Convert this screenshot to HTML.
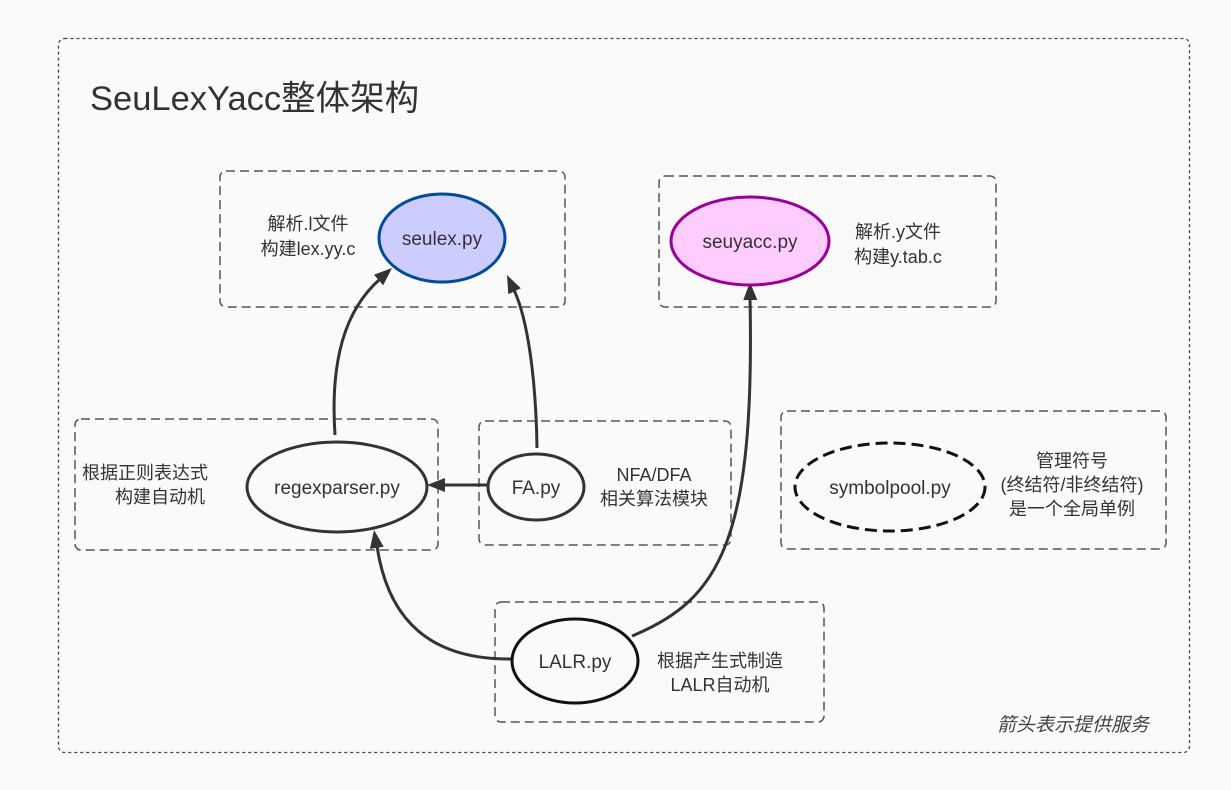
<!DOCTYPE html>
<html><head><meta charset="utf-8"><style>
html,body{margin:0;padding:0;background:#fafafa;}
svg{display:block;font-family:"Liberation Sans","Noto Sans CJK SC",sans-serif;}
</style></head><body>
<svg width="1231" height="790" viewBox="0 0 1231 790" xmlns="http://www.w3.org/2000/svg">
<rect x="0" y="0" width="1231" height="790" fill="#fafafa"/>
<rect x="58.5" y="38.5" width="1131" height="714" rx="6" fill="none" stroke="#444" stroke-width="1.3" stroke-dasharray="3,3"/>
<text x="90" y="110" font-size="34.5" fill="#333">SeuLexYacc整体架构</text>

<g fill="none" stroke="#555" stroke-width="1.5" stroke-dasharray="9,5">
<rect x="220" y="171" width="345" height="136" rx="6"/>
<rect x="659" y="176" width="337" height="131" rx="6"/>
<rect x="75" y="419" width="363" height="131" rx="6"/>
<rect x="479" y="421" width="252" height="124" rx="6"/>
<rect x="781" y="411" width="385" height="138" rx="6"/>
<rect x="495" y="602" width="329" height="120" rx="6"/>
</g>

<g fill="none" stroke="#333" stroke-width="3">
<path d="M335,435 C330,360 345,310 380,279"/>
<path d="M537,448 C536,380 528,320 514,290"/>
<path d="M488,485 L444,485"/>
<path d="M512,659 C430,660 388,620 377,546"/>
<path d="M632,636 C720,600 755,540 750,298"/>
</g>
<g fill="#333">
<polygon points="392,268 383.2,285.2 374,274.8"/>
<polygon points="507,275 520.9,288.3 508.3,294.3"/>
<polygon points="427,485 445,478 445,492"/>
<polygon points="374,530 383.7,546.7 369.9,548.9"/>
<polygon points="750,282 757.3,300 743.3,300"/>
</g>

<ellipse cx="442" cy="238" rx="63" ry="44" fill="#ccccff" stroke="#004c99" stroke-width="3"/>
<ellipse cx="750" cy="241" rx="79" ry="44" fill="#ffccff" stroke="#990099" stroke-width="3"/>
<ellipse cx="337" cy="487" rx="90" ry="45" fill="#fafafa" stroke="#333" stroke-width="3"/>
<ellipse cx="536" cy="487" rx="48" ry="33" fill="#fafafa" stroke="#333" stroke-width="3"/>
<ellipse cx="890" cy="487" rx="95" ry="44" fill="#fafafa" stroke="#111" stroke-width="3" stroke-dasharray="12,6"/>
<ellipse cx="575" cy="661" rx="63" ry="42" fill="#fafafa" stroke="#111" stroke-width="3"/>

<g font-size="19" fill="#333" text-anchor="middle">
<text x="442" y="245">seulex.py</text>
<text x="750" y="248">seuyacc.py</text>
<text x="337" y="494">regexparser.py</text>
<text x="536" y="494">FA.py</text>
<text x="890" y="494">symbolpool.py</text>
<text x="575" y="668">LALR.py</text>
</g>
<g font-size="18" fill="#333" text-anchor="middle">
<text x="308" y="230">解析.l文件</text>
<text x="308" y="255">构建lex.yy.c</text>
<text x="898" y="238">解析.y文件</text>
<text x="898" y="263">构建y.tab.c</text>
<text x="145" y="479">根据正则表达式</text>
<text x="160" y="503">构建自动机</text>
<text x="654" y="481">NFA/DFA</text>
<text x="654" y="505">相关算法模块</text>
<text x="1072" y="467">管理符号</text>
<text x="1072" y="491">(终结符/非终结符)</text>
<text x="1072" y="515">是一个全局单例</text>
<text x="720" y="667">根据产生式制造</text>
<text x="720" y="691">LALR自动机</text>
</g>
<text x="997" y="731" font-size="19" fill="#444" font-style="italic">箭头表示提供服务</text>
</svg>
</body></html>
